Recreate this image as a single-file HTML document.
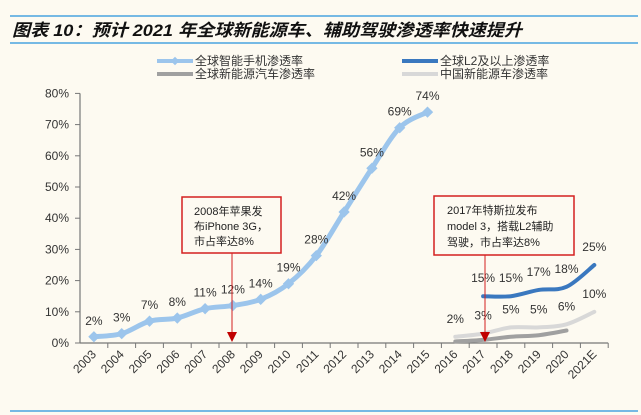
<!DOCTYPE html>
<html><head><meta charset="utf-8"><style>
body{margin:0;background:#fdfaf1;}
svg{display:block;font-family:"Liberation Sans","Noto Sans CJK SC",sans-serif;}
</style></head><body>
<svg id="c" width="641" height="415" viewBox="0 0 641 415">
<rect width="641" height="415" fill="#fdfaf1"/>
<line x1="10" y1="16" x2="638" y2="16" stroke="#4aa3df" stroke-width="1.5"/>
<text x="12" y="36" font-size="17" font-weight="bold" font-style="italic" fill="#111" textLength="510" lengthAdjust="spacingAndGlyphs">图表 10：预计 2021 年全球新能源车、辅助驾驶渗透率快速提升</text>
<line x1="10" y1="43" x2="638" y2="43" stroke="#4aa3df" stroke-width="1.5"/>
<line x1="10" y1="411" x2="638" y2="411" stroke="#4aa3df" stroke-width="1.5"/>
<g>
<g><line x1="157" y1="61" x2="193" y2="61" stroke="#9cc5ec" stroke-width="4"/><rect x="172" y="58" width="6" height="6" fill="#9cc5ec" transform="rotate(45 175 61)"/><text x="195" y="65" font-size="12" fill="#333">全球智能手机渗透率</text></g>
<g><line x1="402" y1="61" x2="438" y2="61" stroke="#3a78bf" stroke-width="4"/><text x="440" y="65" font-size="12" fill="#333">全球L2及以上渗透率</text></g>
<g><line x1="157" y1="74" x2="193" y2="74" stroke="#a0a0a0" stroke-width="4"/><text x="195" y="78" font-size="12" fill="#333">全球新能源汽车渗透率</text></g>
<g><line x1="402" y1="74" x2="438" y2="74" stroke="#d8d8d8" stroke-width="4"/><text x="440" y="78" font-size="12" fill="#333">中国新能源车渗透率</text></g>
</g>
<g id="axes"></g>
<g id="series"></g>
<g>
<rect x="182" y="197" width="99" height="56" fill="#fdfaf1" stroke="#d42020" stroke-width="1.5"/>
<text font-size="11" fill="#222"><tspan x="194" y="215">2008年苹果发</tspan><tspan x="194" y="230">布iPhone 3G，</tspan><tspan x="194" y="245">市占率达8%</tspan></text>
<line x1="232" y1="253" x2="232" y2="332" stroke="#d42020" stroke-width="1"/><polygon points="227,332 237,332 232,342" fill="#c00000"/>
</g>
<g>
<rect x="434" y="196" width="140" height="59" fill="#fdfaf1" stroke="#d42020" stroke-width="1.5"/>
<text font-size="11" fill="#222"><tspan x="447" y="214">2017年特斯拉发布</tspan><tspan x="447" y="230">model 3，搭载L2辅助</tspan><tspan x="447" y="246">驾驶，市占率达8%</tspan></text>
<line x1="485" y1="255" x2="485" y2="332" stroke="#d42020" stroke-width="1"/><polygon points="480,332 490,332 485,342" fill="#c00000"/>
</g>
</svg>
<script>
const categories=["2003","2004","2005","2006","2007","2008","2009","2010","2011","2012","2013","2014","2015","2016","2017","2018","2019","2020","2021E"];
const yTicks=[0,10,20,30,40,50,60,70,80];
const phoneVals=[2,3,7,8,11,12,14,19,28,42,56,69,74];
const phoneStart=0;
const l2Vals=[15,15,17,18,25];
const l2Start=14;
const chinaVals=[2,3,5,5,6,10];
const chinaStart=13;
const globalVals=[0.5,1,2,2.5,4];
const globalStart=13;

const NS="http://www.w3.org/2000/svg";
const x0=80,step=27.8;
function xs(i){return x0+step*(i+0.5);}
function ys(v){return 343-3.12*v;}
function mk(tag,attrs,parent){const e=document.createElementNS(NS,tag);for(const k in attrs)e.setAttribute(k,attrs[k]);parent.appendChild(e);return e;}
const ax=document.getElementById('axes'),se=document.getElementById('series');
let l=mk('line',{x1:x0,y1:ys(0),x2:x0,y2:ys(80),stroke:'#777','stroke-width':1.2},ax);


l=mk('line',{x1:x0,y1:ys(0),x2:x0+step*categories.length,y2:ys(0),stroke:'#777','stroke-width':1.2},ax);


yTicks.forEach(v=>{
 mk('line',{x1:x0-5,y1:ys(v),x2:x0,y2:ys(v),stroke:'#777'},ax);
 const t=mk('text',{x:69,y:ys(v)+4,'text-anchor':'end','font-size':12,fill:'#333'},ax);
 t.textContent=v+'%';
 
 
});
categories.forEach((c,i)=>{
 mk('line',{x1:x0+step*(i+1),y1:ys(0),x2:x0+step*(i+1),y2:ys(0)+5,stroke:'#777'},ax);
 const x=xs(i)+3,y=ys(0)+12;
 const t=mk('text',{x:x,y:y,'text-anchor':'end','font-size':12,fill:'#333',transform:`rotate(-45 ${x} ${y})`},ax);
 t.textContent=c;
 
 
});
function smooth(pts){let d=`M${pts[0][0]},${pts[0][1]}`;for(let i=0;i<pts.length-1;i++){const p0=pts[Math.max(0,i-1)],p1=pts[i],p2=pts[i+1],p3=pts[Math.min(pts.length-1,i+2)];d+=` C${p1[0]+(p2[0]-p0[0])/6},${p1[1]+(p2[1]-p0[1])/6} ${p2[0]-(p3[0]-p1[0])/6},${p2[1]-(p3[1]-p1[1])/6} ${p2[0]},${p2[1]}`;}return d;}
function series(vals,start,color,w,name){
 const pts=vals.map((v,i)=>[xs(start+i),ys(v)]);
 const p=mk('path',{d:smooth(pts),fill:'none',stroke:color,'stroke-width':w,'stroke-linecap':'round'},se);
 
 
 return pts;
}
series(globalVals,globalStart,'#a0a0a0',4,'line-global-nev');
const cp=series(chinaVals,chinaStart,'#d8d8d8',4,'line-china-nev');
const lp=series(l2Vals,l2Start,'#3a78bf',4,'line-l2');
const pp=series(phoneVals,phoneStart,'#9cc5ec',5,'line-smartphone');
pp.forEach((p,i)=>{
 const r=mk('rect',{x:p[0]-4,y:p[1]-4,width:8,height:8,fill:'#9cc5ec',transform:`rotate(45 ${p[0]} ${p[1]})`},se);
 
 
 const t=mk('text',{x:p[0],y:p[1]-12,'text-anchor':'middle','font-size':12,fill:'#333'},se);
 t.textContent=phoneVals[i]+'%';
 
 
});
lp.forEach((p,i)=>{
 const t=mk('text',{x:p[0],y:p[1]-14,'text-anchor':'middle','font-size':12,fill:'#333'},se);
 t.textContent=l2Vals[i]+'%';
 
 
});
cp.forEach((p,i)=>{
 const t=mk('text',{x:p[0],y:p[1]-14,'text-anchor':'middle','font-size':12,fill:'#333'},se);
 t.textContent=chinaVals[i]+'%';
 
 
});
</script>
</body></html>
